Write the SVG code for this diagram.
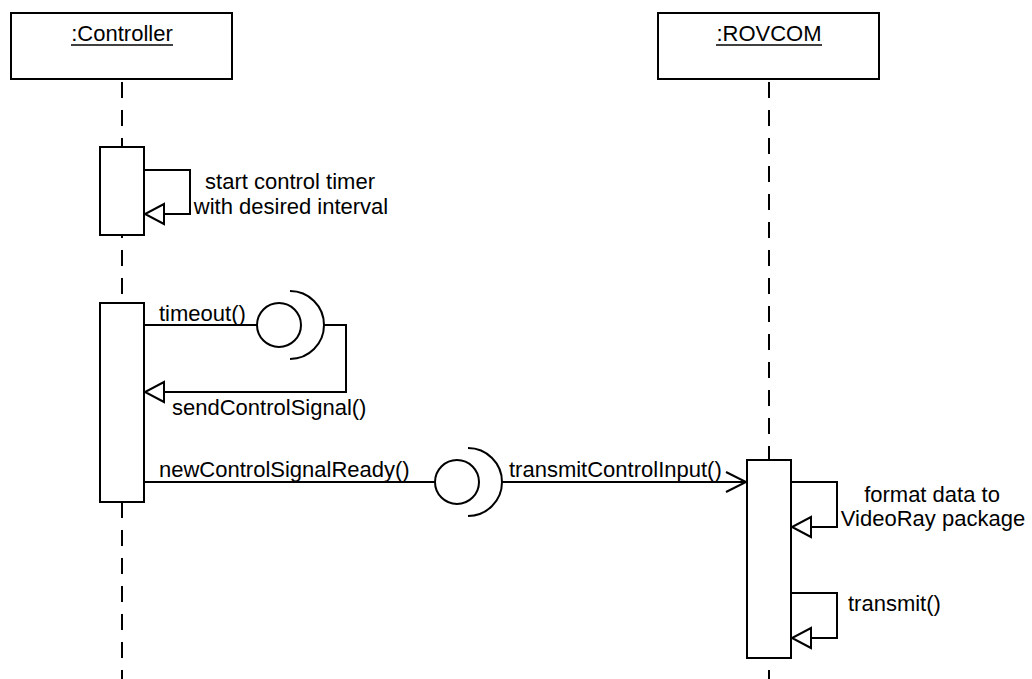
<svg xmlns="http://www.w3.org/2000/svg" width="1032" height="679" viewBox="0 0 1032 679">
  <style>
    .box { fill: #fff; stroke: #000; stroke-width: 2; }
    .act { fill: #fff; stroke: #000; stroke-width: 2; }
    .life { fill: none; stroke: #000; stroke-width: 2; stroke-dasharray: 16 12; }
    .msg { fill: none; stroke: #000; stroke-width: 2; stroke-linejoin: miter; }
    .uline { stroke: #000; stroke-width: 1.5; }
    text { font-family: "Liberation Sans", Arial, sans-serif; font-size: 22px; fill: #000; }
    .mid { text-anchor: middle; }
  </style>
  <defs>
    <!-- hollow triangle head for self calls -->
    <marker id="hollow" markerUnits="userSpaceOnUse" markerWidth="26" markerHeight="26"
            viewBox="-3 -13 26 26" refX="19" refY="0" orient="auto">
      <path d="M0,-10 L19,0 L0,10 Z" fill="#fff" stroke="#000" stroke-width="2"/>
    </marker>
    <!-- open arrow head for asynchronous call -->
    <marker id="open" markerUnits="userSpaceOnUse" markerWidth="26" markerHeight="26"
            viewBox="-3 -13 26 26" refX="20" refY="0" orient="auto">
      <path d="M0,-10 L20,0 L0,10" fill="none" stroke="#000" stroke-width="2"/>
    </marker>
  </defs>

  <!-- :Controller lifeline -->
  <g id="controller">
    <line class="life" x1="122" y1="82" x2="122" y2="679"/>
    <rect class="box" x="11" y="13" width="221" height="66"/>
    <text class="mid" x="122" y="41">:Controller</text>
    <line class="uline" x1="71" y1="45" x2="173" y2="45"/>
    <rect class="act" x="100" y="147" width="44" height="88"/>
    <rect class="act" x="100" y="303" width="44" height="199"/>
  </g>

  <!-- :ROVCOM lifeline -->
  <g id="rovcom">
    <line class="life" x1="769" y1="82" x2="769" y2="679"/>
    <rect class="box" x="658" y="13" width="221" height="66"/>
    <text class="mid" x="769" y="41">:ROVCOM</text>
    <line class="uline" x1="716" y1="45" x2="822" y2="45"/>
    <rect class="act" x="747" y="460" width="44" height="198"/>
  </g>

  <!-- messages and provided/required interface symbols -->
  <g id="connectors">
    <!-- start control timer (self call) -->
    <path class="msg" d="M144,170 H190 V214 H145" marker-end="url(#hollow)"/>
    <text class="mid" x="290" y="189">start control timer</text>
    <text class="mid" x="291" y="214">with desired interval</text>

    <!-- timeout() through ball and socket, back as sendControlSignal() -->
    <line class="msg" x1="144" y1="325" x2="257" y2="325"/>
    <circle class="msg" cx="279" cy="325" r="22"/>
    <path class="msg" d="M290,291 A34,34 0 0 1 290,359"/>
    <path class="msg" d="M324,325 H346 V392 H145" marker-end="url(#hollow)"/>
    <text x="159" y="321">timeout()</text>
    <text x="172" y="415">sendControlSignal()</text>

    <!-- newControlSignalReady() / transmitControlInput() -->
    <line class="msg" x1="144" y1="482" x2="435" y2="482"/>
    <circle class="msg" cx="457" cy="482" r="22"/>
    <path class="msg" d="M468,448 A34,34 0 0 1 468,516"/>
    <line class="msg" x1="502" y1="482" x2="746" y2="482" marker-end="url(#open)"/>
    <text x="159" y="477">newControlSignalReady()</text>
    <text x="509" y="477">transmitControlInput()</text>

    <!-- format data (self call) -->
    <path class="msg" d="M791,482 H837 V527 H792" marker-end="url(#hollow)"/>
    <text class="mid" x="932" y="502">format data to</text>
    <text class="mid" x="933" y="526">VideoRay package</text>

    <!-- transmit() (self call) -->
    <path class="msg" d="M791,593 H837 V638 H792" marker-end="url(#hollow)"/>
    <text x="848" y="611">transmit()</text>
  </g>
</svg>
